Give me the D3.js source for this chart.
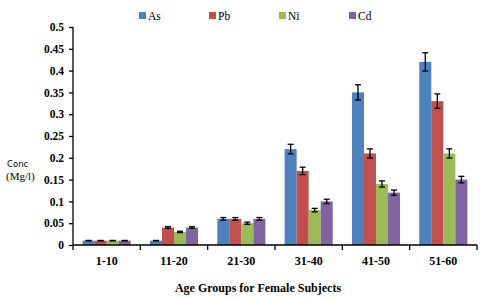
<!DOCTYPE html>
<html>
<head>
<meta charset="utf-8">
<script src="https://cdn.jsdelivr.net/npm/d3@7"></script>
<style>
  body { margin: 0; background: #fff; }
  svg { display: block; }
</style>
</head>
<body>
<div id="chart"></div>
<script>
// data
var groups = ["1-10", "11-20", "21-30", "31-40", "41-50", "51-60"];
var metals = ["As", "Pb", "Ni", "Cd"];
var colors = ["#4F81BD", "#C0504D", "#9BBB59", "#8064A2"];
var asVals = [0.01, 0.01, 0.06, 0.22, 0.35, 0.42];
var pbVals = [0.01, 0.04, 0.06, 0.17, 0.21, 0.33];
var niVals = [0.01, 0.03, 0.05, 0.08, 0.14, 0.21];
var cdVals = [0.01, 0.04, 0.06, 0.10, 0.12, 0.15];
var asErr = [0.0005, 0.0005, 0.003, 0.011, 0.0175, 0.021];
var pbErr = [0.0005, 0.002, 0.003, 0.0085, 0.0105, 0.0165];
var niErr = [0.0005, 0.0015, 0.0025, 0.004, 0.007, 0.0105];
var cdErr = [0.0005, 0.002, 0.003, 0.005, 0.006, 0.0075];
var yTicks = [0, 0.05, 0.1, 0.15, 0.2, 0.25, 0.3, 0.35, 0.4, 0.45, 0.5];

var values = [asVals, pbVals, niVals, cdVals];
var errors = [asErr, pbErr, niErr, cdErr];

var margin = {top: 27, right: 16, bottom: 53, left: 73},
    width = 493 - margin.left - margin.right,
    height = 298 - margin.top - margin.bottom;

var svg = d3.select("#chart")
  .append("svg")
    .attr("width", 493)
    .attr("height", 298)
  .append("g")
    .attr("transform", "translate(" + margin.left + "," + margin.top + ")");

var x = d3.scaleBand()
  .domain(groups)
  .range([0, width]);

var xSub = d3.scaleBand()
  .domain(metals)
  .range([0, x.bandwidth()])
  .paddingOuter(0.8)
  .paddingInner(0);

var y = d3.scaleLinear()
  .domain([0, 0.5])
  .range([height, 0]);

// bars
var rows = [];
groups.forEach(function(g, i) {
  metals.forEach(function(m, j) {
    rows.push({group: g, metal: m, color: colors[j], v: values[j][i], e: errors[j][i]});
  });
});

svg.selectAll("rect.bar")
  .data(rows)
  .enter()
  .append("rect")
    .attr("class", "bar")
    .attr("x", function(d) { return x(d.group) + xSub(d.metal); })
    .attr("y", function(d) { return y(d.v); })
    .attr("width", xSub.bandwidth())
    .attr("height", function(d) { return height - y(d.v); })
    .attr("fill", function(d) { return d.color; });

// error bars
var eb = svg.selectAll("g.err")
  .data(rows)
  .enter()
  .append("g")
    .attr("class", "err")
    .attr("stroke", "#000")
    .attr("stroke-width", 1.3);
function cx(d) { return x(d.group) + xSub(d.metal) + xSub.bandwidth() / 2; }
eb.append("line")
  .attr("x1", cx).attr("x2", cx)
  .attr("y1", function(d) { return y(d.v + d.e); })
  .attr("y2", function(d) { return y(d.v - d.e); });
eb.append("line")
  .attr("x1", function(d) { return cx(d) - 3; })
  .attr("x2", function(d) { return cx(d) + 3; })
  .attr("y1", function(d) { return y(d.v + d.e); })
  .attr("y2", function(d) { return y(d.v + d.e); });
eb.append("line")
  .attr("x1", function(d) { return cx(d) - 3; })
  .attr("x2", function(d) { return cx(d) + 3; })
  .attr("y1", function(d) { return y(d.v - d.e); })
  .attr("y2", function(d) { return y(d.v - d.e); });

// Y axis
var yAxis = svg.append("g")
  .call(d3.axisLeft(y).tickValues(yTicks).tickSize(4).tickPadding(5)
    .tickFormat(function(d) { return d === 0 ? "0" : String(+d.toFixed(2)); }));
yAxis.select(".domain").attr("d", "M0," + height + "V0").attr("stroke-width", 1.3);
yAxis.selectAll(".tick line").attr("stroke-width", 1.3);
yAxis.selectAll("text")
  .style("font-family", "'Liberation Serif', 'Times New Roman', serif")
  .style("font-weight", "bold")
  .style("font-size", "11.5px")
  .attr("fill", "#000");

// X axis
var xAxis = svg.append("g")
  .attr("transform", "translate(0," + height + ")")
  .call(d3.axisBottom(x).tickSize(0).tickPadding(11));
xAxis.select(".domain").attr("d", "M0,0H" + width).attr("stroke-width", 1.3);
xAxis.selectAll("text")
  .style("font-family", "'Liberation Serif', 'Times New Roman', serif")
  .style("font-weight", "bold")
  .style("font-size", "12px")
  .attr("fill", "#000");
xAxis.selectAll("line.sep")
  .data(d3.range(groups.length + 1))
  .enter()
  .append("line")
    .attr("class", "sep")
    .attr("x1", function(i) { return i * x.step(); })
    .attr("x2", function(i) { return i * x.step(); })
    .attr("y1", 0)
    .attr("y2", 5)
    .attr("stroke", "#000")
    .attr("stroke-width", 1.3);

// titles
svg.append("text")
  .attr("x", width / 2 - 17)
  .attr("y", height + 47)
  .attr("text-anchor", "middle")
  .style("font-family", "'Liberation Serif', 'Times New Roman', serif")
  .style("font-weight", "bold")
  .style("font-size", "12px")
  .text("Age Groups for Female Subjects");

svg.append("text")
  .attr("x", 7 - margin.left)
  .attr("y", 167 - margin.top)
  .style("font-family", "'DejaVu Sans', sans-serif")
  .style("font-size", "8.5px")
  .text("Conc");

svg.append("text")
  .attr("x", 6 - margin.left)
  .attr("y", 180 - margin.top)
  .style("font-family", "'Liberation Serif', 'Times New Roman', serif")
  .style("font-size", "11px")
  .text("(Mg/l)");

// legend
var legend = d3.select("svg").append("g");
var lx = d3.scalePoint().domain(metals).range([139, 349]);
var li = legend.selectAll("g")
  .data(metals)
  .enter()
  .append("g")
    .attr("transform", function(d) { return "translate(" + lx(d) + ",12)"; });
li.append("rect")
  .attr("width", 7)
  .attr("height", 7)
  .attr("fill", function(d, i) { return colors[i]; });
li.append("text")
  .attr("x", 9)
  .attr("y", 7.5)
  .style("font-family", "'Liberation Serif', 'Times New Roman', serif")
  .style("font-size", "11.5px")
  .text(function(d) { return d; });
</script>
</body>
</html>
